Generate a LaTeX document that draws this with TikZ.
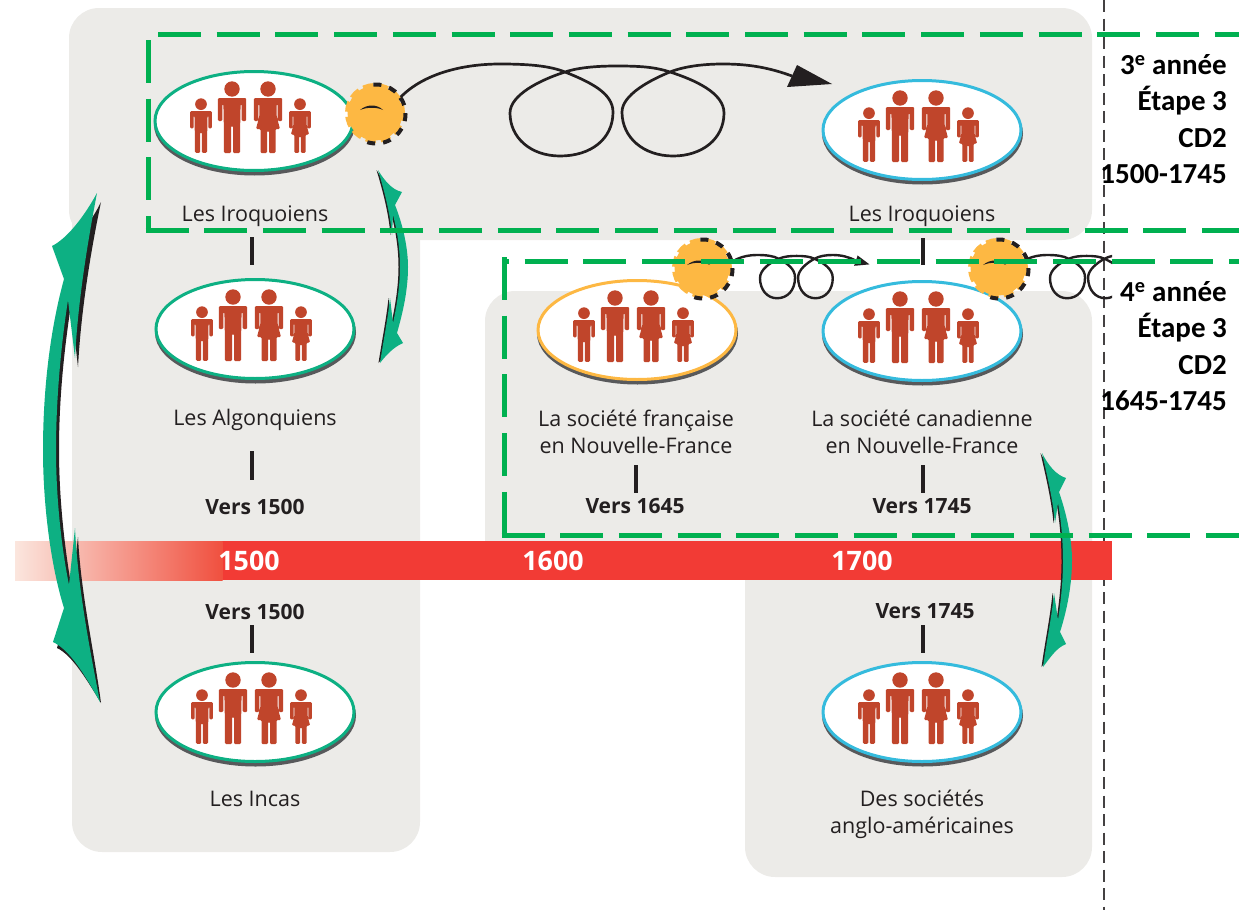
\documentclass[tikz,border=0pt]{standalone}
\usepackage{fontspec}
\setmainfont{Open Sans}
\newfontfamily\calibri{Carlito}
\usetikzlibrary{shapes.geometric}
\definecolor{panelc}{HTML}{ECEBE8}
\definecolor{redbar}{HTML}{F23B35}
\definecolor{framec}{HTML}{00B050}
\definecolor{grn}{HTML}{0DB083}
\definecolor{blu}{HTML}{35BBDD}
\definecolor{org}{HTML}{FDB843}
\definecolor{persc}{HTML}{C0452B}
\definecolor{ink}{HTML}{231F20}
\definecolor{shad}{HTML}{58595B}
\definecolor{fadea}{HTML}{FBE6DE}
\definecolor{fadeb}{HTML}{F8A88E}
\definecolor{fadec}{HTML}{F0503F}
\tikzset{
  panel/.style={fill=panelc,rounded corners=30pt},
  famille/.style={ellipse,draw=#1,line width=3pt,fill=white,minimum width=198pt,minimum height=99pt,inner sep=0pt,
     preaction={draw=shad,fill=shad,transform canvas={shift={(0.5pt,-3.5pt)}}}},
  lab/.style={font=\fontsize{21.5}{27}\selectfont,text=ink,align=center,inner sep=0pt},
  vers/.style={font=\fontsize{21}{24}\selectfont\bfseries,text=ink,inner sep=0pt},
  an/.style={font=\fontsize{26.8}{30}\selectfont\bfseries,text=white,inner sep=0pt},
  niveau/.style={font=\calibri\fontsize{29}{36.4}\selectfont\bfseries,text=black,align=right,anchor=east,inner sep=0pt},
  tickl/.style={draw=ink,line width=3.2pt},
  frm/.style={draw=framec,line width=5pt,dash pattern=on 43pt off 15.7pt},
  courbe/.style={draw=ink,line width=#1},
  gearn/.style={circle,fill=org,draw=org,line width=5pt,dash pattern=on 10pt off 5pt,minimum size=55pt,inner sep=0pt},
  gearb/.style={draw=ink,line width=4pt,dash pattern=on 8pt off 8pt},
  perso/.style={fill=persc,rounded corners=1.2pt},
}
% figures (origin: middle of the shoulders)
\newcommand\fighaut{(-14.2,0) -- (14.2,0) -- (14.2,23) -- (9.6,23) -- (9.6,6) -- (8.6,6)}
\newcommand\figbas{(-8.6,6) -- (-9.6,6) -- (-9.6,23) -- (-14.2,23) -- cycle}
\newcommand\homme[3]{\begin{scope}[shift={(#1,#2)},scale=#3]
  \fill[persc] (0,-9) circle (7.7);
  \fill[perso] \fighaut -- (8.2,27) -- (8,55) -- (1,55) -- (1,28) -- (-1,28) -- (-1,55) -- (-8,55) -- (-8.2,27) -- \figbas;
\end{scope}}
\newcommand\femme[3]{\begin{scope}[shift={(#1,#2)},scale=#3]
  \fill[persc] (0,-9) circle (7.7);
  \fill[perso] \fighaut -- (8.6,18) -- (12,31) -- (7.5,31) -- (7.5,55) -- (1,55) -- (1,33) -- (-1,33) -- (-1,55) -- (-7.5,55) -- (-7.5,31) -- (-12,31) -- (-8.6,18) -- \figbas;
\end{scope}}
\newcommand\gens[1]{\begin{scope}[shift={(#1.center)}]
  \homme{-53}{-10}{.76}\homme{-22}{-23}{1}\femme{14}{-23}{1}\femme{46}{-10}{.76}
\end{scope}}
\newcommand\rouage[3]{%
  \node[gearn] (#1) at (#2,#3) {};
  \begin{scope}[shift={(#1.center)}]
   \draw[gearb] (1,1) ++(-95:29.5) arc[start angle=-95,end angle=112,radius=29.5];
   \fill[ink] (-15,-3) .. controls (-8,-9) and (2,-9) .. (8,-3) .. controls (2,-6) and (-8,-6) .. (-15,-3);
  \end{scope}}
% curling line, in the coordinates of the large one
\newcommand\boucle{(398,100) .. controls (420,75) and (460,64) .. (500,64) .. controls (530,64) and (550,66) .. (565,72)
  .. controls (590,82) and (613,93) .. (613,112) .. controls (613,139) and (591,156) .. (560,156)
  .. controls (531,156) and (510,138) .. (510,113) .. controls (510,95) and (540,80) .. (565,72)
  .. controls (580,67) and (600,66) .. (617,66) .. controls (640,66) and (655,67) .. (670,72)
  .. controls (695,80) and (724,93) .. (724,113) .. controls (724,139) and (702,156) .. (673,156)
  .. controls (644,156) and (622,138) .. (622,112) .. controls (622,95) and (650,80) .. (670,72)
  .. controls (685,66) and (705,64) .. (723,64) .. controls (750,64) and (770,68) .. (792,76)}
\newcommand\pointe{(832,84) -- (797,65) -- (787,87) -- cycle}
% double arrows
\newcommand\flecheA{(97,193) .. controls (85,215) and (68,238) .. (52,246) -- (64,279)
  .. controls (50,330) and (43,390) .. (43,450) .. controls (43,510) and (52,570) .. (64,608) -- (53,642)
  .. controls (70,650) and (85,675) .. (100,702) .. controls (90,650) and (78,590) .. (75,528) -- (69,585)
  .. controls (60,540) and (56,490) .. (56,450) .. controls (56,400) and (61,345) .. (68,300) -- (75,358)
  .. controls (78,300) and (88,240) .. (97,193) -- cycle}
\newcommand\flecheAs{(101,202) .. controls (90,225) and (72,245) .. (56,250) -- (68,282)
  .. controls (54,330) and (47,390) .. (47,450) .. controls (47,510) and (56,570) .. (68,608) -- (57,648)
  .. controls (72,655) and (87,680) .. (101,703) .. controls (94,650) and (81,595) .. (78,537) -- (72,590)
  .. controls (63,540) and (59,490) .. (59,450) .. controls (59,400) and (64,350) .. (71,305) -- (78,367)
  .. controls (81,310) and (91,250) .. (101,202) -- cycle}
\newcommand\flecheB{(1042,453) .. controls (1048,465) and (1056,475) .. (1066,478) -- (1059,492)
  .. controls (1067,515) and (1072,540) .. (1072,560) .. controls (1072,585) and (1067,610) .. (1060,632) -- (1066,644)
  .. controls (1056,648) and (1050,658) .. (1043,667) .. controls (1046,645) and (1052,615) .. (1054,593) -- (1058,620)
  .. controls (1061,600) and (1063,580) .. (1063,562) .. controls (1063,540) and (1061,520) .. (1058,503) -- (1055,523)
  .. controls (1053,500) and (1047,475) .. (1042,453) -- cycle}
\newcommand\flecheC{(378,170) .. controls (384,180) and (392,190) .. (402,192) -- (395,205)
  .. controls (403,225) and (408,248) .. (408,267) .. controls (408,290) and (403,312) .. (397,333) -- (403,343)
  .. controls (394,347) and (387,354) .. (380,363) .. controls (383,343) and (388,318) .. (390,298) -- (393,323)
  .. controls (397,305) and (400,285) .. (400,267) .. controls (400,248) and (397,230) .. (393,215) -- (392,235)
  .. controls (390,212) and (384,190) .. (378,170) -- cycle}
\begin{document}
\begin{tikzpicture}[x=1pt,y=-1pt]
\useasboundingbox (0,0) rectangle (1239,910);
% panels
\fill[panel] (69,8) rectangle (1092,240);
\fill[panel] (72,100) rectangle (420,852);
\fill[panel] (485,291) rectangle (1092,577);
\fill[panel] (745,400) rectangle (1092,877);
% vertical guide
\coordinate (guideh) at (1104,0);
\coordinate (guideb) at (1104,910);
\draw[ink!85,line width=1.2pt,dash pattern=on 12pt off 6.5pt] (guideh) -- (guideb);
% time bar
\fill[redbar] (222,541) rectangle (1112,580);
\shade[left color=fadea,middle color=fadeb,right color=fadec,shading angle=90,draw=none] (15,541) rectangle (222.5,580);
\node[an] (a1500) at (249,561) {1500};
\node[an] (a1600) at (553,561) {1600};
\node[an] (a1700) at (862,561) {1700};
% families
\node[famille=grn] (iroqa) at (254,121) {}; \gens{iroqa}
\node[famille=blu] (iroqb) at (922,130) {}; \gens{iroqb}
\node[famille=grn] (algo) at (255,329) {}; \gens{algo}
\node[famille=org] (fran) at (637,330) {}; \gens{fran}
\node[famille=blu] (cana) at (922,331) {}; \gens{cana}
\node[famille=grn] (inca) at (255,712) {}; \gens{inca}
\node[famille=blu] (angl) at (922,712) {}; \gens{angl}
% labels
\node[lab] (liroqa) at (255,216) {Les Iroquoiens};
\node[lab] (liroqb) at (922,216) {Les Iroquoiens};
\node[lab] (lalgo) at (255,419.5) {Les Algonquiens};
\node[lab] (lfran) at (636,432) {La société française\\en Nouvelle-France};
\node[lab] (lcana) at (922,432) {La société canadienne\\en Nouvelle-France};
\node[lab] (linca) at (255,798.5) {Les Incas};
\node[lab] (langl) at (922,814) {Des sociétés\\anglo-américaines};
\node[vers] (v1) at (255,506.5) {Vers 1500};
\node[vers] (v2) at (255,611.5) {Vers 1500};
\node[vers] (v3) at (635,506.5) {Vers 1645};
\node[vers] (v4) at (922,506.5) {Vers 1745};
\node[vers] (v5) at (925,611.5) {Vers 1745};
% ticks
\foreach \n/\x/\ya/\yb in {ta/252/237/265,tb/252/451/480,tc/252/625/653,td/636/465/493,te/923/465/493,tf/923/238/265,tg/923/625/653}{
  \coordinate (\n1) at (\x,\ya); \coordinate (\n2) at (\x,\yb);
  \draw[tickl] (\n1) -- (\n2);
}
% curls
\draw[courbe=2.7pt] \boucle;
\fill[ink] \pointe;
\begin{scope}[shift={(586.6,224.92)},xscale=.34,yscale=.47]
  \draw[courbe=2.4pt] \boucle;
  \fill[ink] \pointe;
\end{scope}
\begin{scope}
  \clip (1000,230) rectangle (1112,310);
  \begin{scope}[shift={(876.6,224.92)},xscale=.34,yscale=.47]
    \draw[courbe=2.4pt] \boucle;
  \end{scope}
\end{scope}
% gears
\rouage{g1}{375}{113}
\rouage{g2}{702}{268}
\rouage{g3}{998}{268}
% double arrows
\fill[ink] \flecheAs;
\fill[grn] \flecheA;
\fill[ink,xshift=-1.5pt] \flecheB;
\fill[grn] \flecheB;
\fill[ink,xshift=-1.5pt] \flecheC;
\fill[grn] \flecheC;
% frames
\coordinate (fa1) at (158,34); \coordinate (fa2) at (1239,34);
\coordinate (fa3) at (148,40); \coordinate (fa4) at (148,230); \coordinate (fa5) at (1239,230);
\draw[frm] (fa1) -- (fa2);
\draw[frm] (fa3) -- (fa4);
\draw[frm] ([xshift=-2.5pt]fa4) -- (fa5);
\coordinate (fb1) at (502,261); \coordinate (fb2) at (1239,261);
\coordinate (fb3) at (504,257); \coordinate (fb4) at (504,535); \coordinate (fb5) at (1239,535);
\draw[frm,dash phase=36pt] (fb1) -- (fb2);
\draw[frm] (fb3) -- (fb4);
\draw[frm] ([xshift=-2.5pt]fb4) -- (fb5);
% levels
\node[niveau] (n3) at (1227,119) {3\textsuperscript{e} année\\Étape 3\\CD2\\1500-1745};
\node[niveau] (n4) at (1227,346) {4\textsuperscript{e} année\\Étape 3\\CD2\\1645-1745};
\end{tikzpicture}
\end{document}
